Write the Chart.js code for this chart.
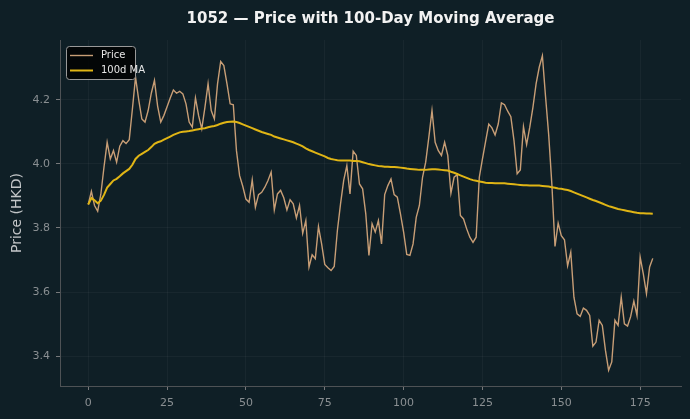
<!DOCTYPE html>
<html>
<head>
<meta charset="utf-8">
<script src="https://cdn.jsdelivr.net/npm/chart.js@4.4.1/dist/chart.umd.min.js"></script>
<style>
  html, body { margin: 0; padding: 0; background: #0f1f26; }
</style>
</head>
<body>
<canvas id="priceChart" width="690" height="419"></canvas>
<script>
// daily close, day 0..179
const price = [
  3.873, 3.914, 3.870, 3.852, 3.905, 3.990, 4.067, 4.015, 4.041, 4.005,
  4.055, 4.072, 4.063, 4.075, 4.170, 4.270, 4.200, 4.140, 4.130, 4.166,
  4.220, 4.260, 4.180, 4.130, 4.151, 4.178, 4.205, 4.230, 4.220, 4.226,
  4.218, 4.187, 4.130, 4.114, 4.205, 4.150, 4.109, 4.176, 4.250, 4.166,
  4.140, 4.249, 4.319, 4.306, 4.249, 4.187, 4.184, 4.041, 3.963, 3.930,
  3.890, 3.880, 3.950, 3.864, 3.904, 3.911, 3.927, 3.948, 3.974, 3.856,
  3.906, 3.917, 3.894, 3.856, 3.888, 3.875, 3.831, 3.870, 3.783, 3.823,
  3.678, 3.716, 3.704, 3.804, 3.750, 3.686, 3.676, 3.667, 3.680, 3.792,
  3.875, 3.948, 3.994, 3.906, 4.039, 4.026, 3.937, 3.922, 3.844, 3.714,
  3.813, 3.787, 3.823, 3.750, 3.904, 3.932, 3.953, 3.904, 3.896, 3.844,
  3.787, 3.717, 3.714, 3.750, 3.833, 3.870, 3.958, 4.005, 4.083, 4.166,
  4.067, 4.041, 4.026, 4.067, 4.026, 3.908, 3.958, 3.966, 3.839, 3.828,
  3.797, 3.771, 3.755, 3.771, 3.958, 4.015, 4.070, 4.124, 4.112, 4.090,
  4.124, 4.190, 4.184, 4.164, 4.147, 4.072, 3.969, 3.981, 4.116, 4.060,
  4.114, 4.176, 4.249, 4.301, 4.337, 4.210, 4.090, 3.937, 3.742, 3.815,
  3.776, 3.763, 3.682, 3.724, 3.584, 3.532, 3.524, 3.550, 3.543, 3.527,
  3.431, 3.444, 3.512, 3.496, 3.418, 3.356, 3.382, 3.512, 3.496, 3.584,
  3.501, 3.494, 3.524, 3.572, 3.527, 3.709, 3.657, 3.595, 3.678, 3.705
];

// 100-day moving average
const ma100 = [
  3.873, 3.893, 3.886, 3.877, 3.885, 3.903, 3.926, 3.937, 3.948, 3.953,
  3.961, 3.970, 3.977, 3.984, 3.997, 4.015, 4.025, 4.031, 4.037, 4.043,
  4.052, 4.062, 4.067, 4.070, 4.075, 4.080, 4.085, 4.090, 4.094, 4.098,
  4.100, 4.101, 4.102, 4.104, 4.106, 4.108, 4.110, 4.111, 4.114, 4.116,
  4.118, 4.121, 4.125, 4.128, 4.130, 4.131, 4.132, 4.130, 4.127, 4.123,
  4.119, 4.115, 4.111, 4.107, 4.103, 4.099, 4.096, 4.093, 4.090, 4.085,
  4.082, 4.079, 4.076, 4.073, 4.070, 4.067, 4.063, 4.059, 4.054, 4.048,
  4.043, 4.039, 4.035, 4.031, 4.027, 4.023, 4.018, 4.015, 4.013, 4.011,
  4.010, 4.010, 4.010, 4.010, 4.009, 4.009, 4.008, 4.005, 4.002, 3.999,
  3.997, 3.995, 3.993, 3.992, 3.991, 3.991, 3.990, 3.990, 3.989, 3.988,
  3.987, 3.985, 3.984, 3.983, 3.982, 3.981, 3.981, 3.981, 3.982, 3.983,
  3.983, 3.982, 3.981, 3.980, 3.979, 3.975, 3.972, 3.968, 3.964, 3.960,
  3.956, 3.952, 3.949, 3.947, 3.945, 3.943, 3.941, 3.940, 3.940, 3.939,
  3.939, 3.939, 3.939, 3.938, 3.937, 3.936, 3.935, 3.934, 3.933, 3.933,
  3.932, 3.932, 3.932, 3.932, 3.931, 3.930, 3.929, 3.927, 3.925, 3.923,
  3.922, 3.920, 3.918, 3.915, 3.911, 3.907, 3.903, 3.899, 3.895, 3.891,
  3.887, 3.884, 3.880, 3.876, 3.872, 3.868, 3.865, 3.862, 3.859, 3.857,
  3.855, 3.853, 3.851, 3.849, 3.847, 3.846, 3.846, 3.845, 3.845, 3.844
];

const xTicks = [0, 25, 50, 75, 100, 125, 150, 175];
const yTicks = [3.4, 3.6, 3.8, 4.0, 4.2];

const tickFont = { family: 'DejaVu Sans', size: 11 };
const gridColor = 'rgba(255,255,255,0.04)';

// legend drawn inside the plot, top-left, like the original
const insideLegend = {
    id: 'insideLegend',
    afterDatasetsDraw(chart) {
        const ctx = chart.ctx;
        const area = chart.chartArea;
        const x = area.left + 6, y = area.top + 6;
        ctx.save();
        ctx.fillStyle = 'rgba(0,0,0,0.8)';
        ctx.strokeStyle = '#999999';
        ctx.lineWidth = 1;
        ctx.beginPath();
        ctx.roundRect(x + 0.5, y + 0.5, 69, 33, 3);
        ctx.fill();
        ctx.stroke();
        ctx.font = '10px "DejaVu Sans"';
        ctx.textBaseline = 'middle';
        chart.data.datasets.forEach((ds, i) => {
            const ly = y + 9.5 + i * 15;
            ctx.strokeStyle = ds.borderColor;
            ctx.lineWidth = ds.borderWidth;
            ctx.beginPath();
            ctx.moveTo(x + 4, ly);
            ctx.lineTo(x + 27, ly);
            ctx.stroke();
            ctx.fillStyle = '#e6e6e6';
            ctx.fillText(ds.label, x + 35, ly);
        });
        ctx.restore();
    }
};

const bgFill = {
    id: 'bgFill',
    beforeDraw(chart) {
        const ctx = chart.ctx;
        ctx.save();
        ctx.fillStyle = '#0f1f26';
        ctx.fillRect(0, 0, chart.width, chart.height);
        ctx.restore();
    }
};

const ctx = document.getElementById('priceChart').getContext('2d');
new Chart(ctx, {
    type: 'line',
    data: {
        datasets: [
            {
                label: 'Price',
                data: price.map((v, i) => ({ x: i, y: v })),
                borderColor: '#c89e76',
                borderWidth: 1.4,
                pointRadius: 0,
                tension: 0,
                order: 1
            },
            {
                label: '100d MA',
                data: ma100.map((v, i) => ({ x: i, y: v })),
                borderColor: '#e0b515',
                borderWidth: 2,
                pointRadius: 0,
                tension: 0,
                order: 0
            }
        ]
    },
    options: {
        responsive: false,
        animation: false,
        devicePixelRatio: 1,
        layout: { padding: { left: 0, right: 9, top: 0, bottom: 0 } },
        plugins: {
            legend: { display: false },
            tooltip: { enabled: false },
            title: {
                display: true,
                fullSize: false,
                text: '1052 — Price with 100-Day Moving Average',
                color: '#f2f2f2',
                font: { family: 'DejaVu Sans', size: 15, weight: 'bold' },
                padding: { top: 10, bottom: 12 }
            }
        },
        scales: {
            x: {
                type: 'linear',
                min: -8.95,
                max: 187.95,
                afterBuildTicks: axis => { axis.ticks = xTicks.map(v => ({ value: v })); },
                afterFit: axis => { axis.height = 33; },
                ticks: {
                    color: '#8a8f92',
                    font: tickFont,
                    padding: 7,
                    maxRotation: 0,
                    callback: v => `${v}`
                },
                grid: { color: gridColor, tickColor: '#77797b', tickLength: 4 },
                border: { color: '#4e5255', width: 1 }
            },
            y: {
                type: 'linear',
                min: 3.307,
                max: 4.386,
                afterBuildTicks: axis => { axis.ticks = yTicks.map(v => ({ value: v })); },
                afterFit: axis => { axis.width = 60; },
                ticks: {
                    color: '#8a8f92',
                    font: tickFont,
                    padding: 6,
                    callback: v => Number(v).toFixed(1)
                },
                grid: { color: gridColor, tickColor: '#77797b', tickLength: 4 },
                border: { color: '#4e5255', width: 1 },
                title: {
                    display: true,
                    text: 'Price (HKD)',
                    color: '#c3c6c8',
                    font: { family: 'DejaVu Sans', size: 14 },
                    padding: { top: 9, bottom: 0 }
                }
            }
        }
    },
    plugins: [bgFill, insideLegend]
});
</script>
</body>
</html>
